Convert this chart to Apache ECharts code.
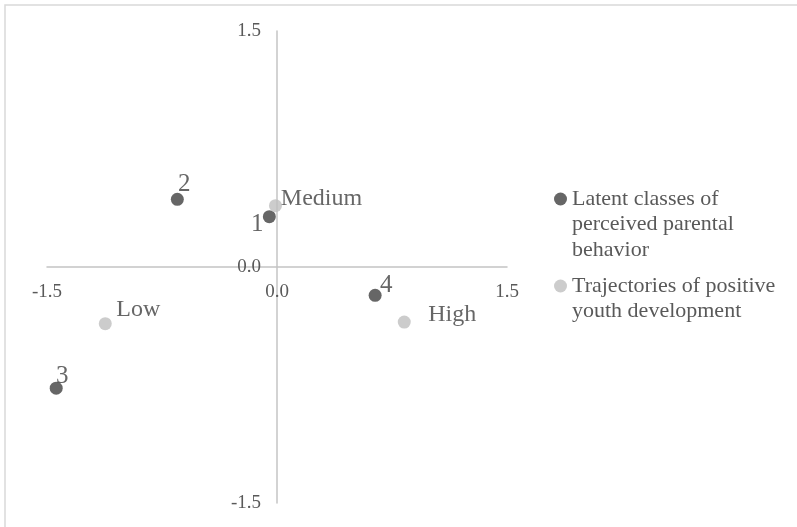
<!DOCTYPE html>
<html>
<head>
<meta charset="utf-8">
<script src="https://cdn.jsdelivr.net/npm/echarts@6/dist/echarts.min.js"></script>
<style>
  html, body { margin: 0; padding: 0; background: #ffffff; }
  #chart { width: 797px; height: 527px; }
</style>
</head>
<body>
<div id="chart"></div>
<script>
// data
const classNames = ['1', '2', '3', '4'];
const classX = [-0.05, -0.65, -1.44, 0.64];
const classY = [0.32, 0.43, -0.77, -0.18];

const trajNames = ['Medium', 'Low', 'High'];
const trajX = [-0.01, -1.12, 0.83];
const trajY = [0.39, -0.36, -0.35];

const axisTicks = [-1.5, 0, 1.5];

const seriesNames = ['Latent classes of perceived parental behavior', 'Trajectories of positive youth development'];
const legendLines = {
  'Latent classes of perceived parental behavior': ['Latent classes of', 'perceived parental', 'behavior'],
  'Trajectories of positive youth development': ['Trajectories of positive', 'youth development']
};

// where each point label sits relative to its point (px)
const labelOffsets = {
  '1': [-12, 8], '2': [7, -15], '3': [6, -12], '4': [11, -10],
  'Medium': [46, -7], 'Low': [33, -14], 'High': [48, -7]
};

const serif = '"Liberation Serif", "Times New Roman", serif';

function points(names, xs, ys) {
  return names.map((n, i) => ({
    name: n,
    value: [xs[i], ys[i]],
    label: { offset: labelOffsets[n] }
  }));
}

// legend text is centred on its icon, so pad with blank lines above
// to keep the icon level with the first line
function legendText(n) {
  const lines = legendLines[n];
  return new Array(lines.length - 1).fill('').concat(lines).join('\n');
}

const grid = { left: 47, right: 290, top: 31, bottom: 24 };
const gridW = 797 - grid.left - grid.right;
const gridH = 527 - grid.top - grid.bottom;
const legendLineH = 25.5;

const chart = echarts.init(document.getElementById('chart'));

const axisCommon = {
  type: 'value',
  min: axisTicks[0],
  max: axisTicks[axisTicks.length - 1],
  interval: axisTicks[1] - axisTicks[0],
  axisLine: { onZero: false, lineStyle: { color: '#c4c4c4', width: 1.5 } },
  axisTick: { show: false },
  splitLine: { show: false },
  axisLabel: {
    color: '#595959',
    fontFamily: serif,
    fontSize: 19,
    formatter: v => v.toFixed(1)
  }
};

const legendCommon = {
  orient: 'vertical', left: 549,
  icon: 'circle', itemWidth: 13, itemHeight: 13,
  formatter: legendText,
  textStyle: { color: '#595959', fontFamily: serif, fontSize: 22, lineHeight: legendLineH }
};

// place each legend so its icon sits level with the first text line
const legendIconY = [199, 286];
function legendTop(i) {
  const n = legendLines[seriesNames[i]].length;
  return legendIconY[i] - (2 * n - 1) * legendLineH / 2 - 5;
}

const option = {
  animation: false,
  backgroundColor: '#ffffff',
  graphic: [{
    type: 'rect',
    shape: { x: 5, y: 5, width: 900, height: 700 },
    style: { fill: 'none', stroke: '#d9d9d9', lineWidth: 1.5 },
    silent: true
  }],
  grid: grid,
  // axes cross at zero: shift them into the middle of the plot
  xAxis: Object.assign({}, axisCommon, {
    position: 'bottom',
    offset: -gridH / 2,
    axisLabel: Object.assign({}, axisCommon.axisLabel, { margin: 16 })
  }),
  yAxis: Object.assign({}, axisCommon, {
    position: 'left',
    offset: -gridW / 2,
    axisLabel: Object.assign({}, axisCommon.axisLabel, { margin: 16 })
  }),
  legend: [
    Object.assign({}, legendCommon, { top: legendTop(0), data: [{ name: seriesNames[0] }] }),
    Object.assign({}, legendCommon, { top: legendTop(1), data: [{ name: seriesNames[1] }] })
  ],
  series: [
    {
      name: seriesNames[0],
      type: 'scatter',
      symbolSize: 13,
      itemStyle: { color: '#404040' },
      label: {
        show: true, position: 'inside', formatter: '{b}',
        color: '#404040', fontFamily: serif, fontSize: 25
      },
      data: points(classNames, classX, classY)
    },
    {
      name: seriesNames[1],
      type: 'scatter',
      symbolSize: 13,
      itemStyle: { color: '#bfbfbf' },
      label: {
        show: true, position: 'inside', formatter: '{b}',
        color: '#404040', fontFamily: serif, fontSize: 24
      },
      data: points(trajNames, trajX, trajY)
    }
  ]
};

chart.setOption(option);
</script>
</body>
</html>
